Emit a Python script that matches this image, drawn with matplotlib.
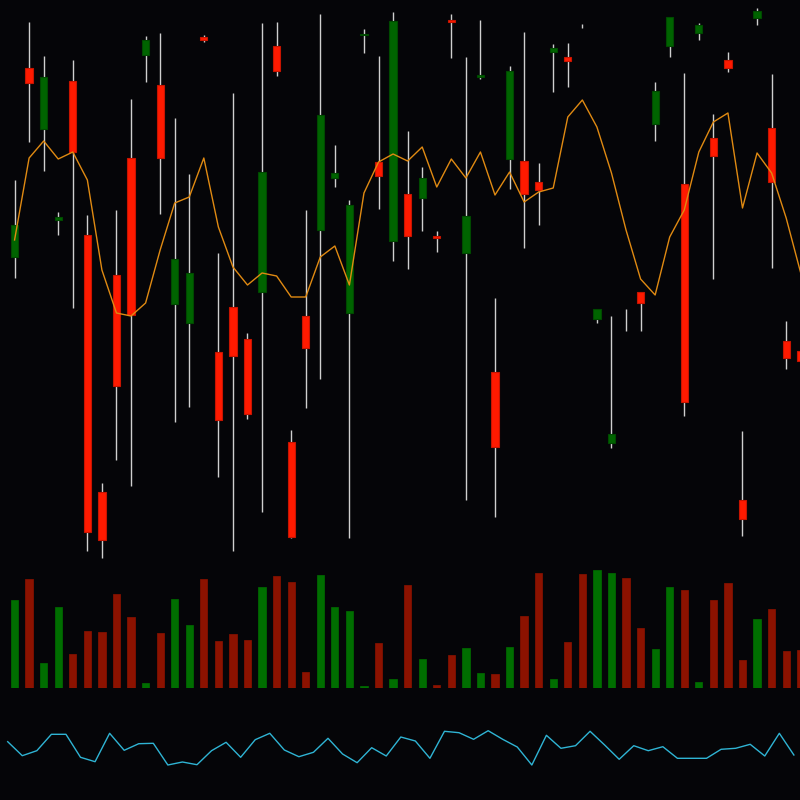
import matplotlib
matplotlib.use('Agg')
import matplotlib.pyplot as plt
import numpy as np

# candle data (open, high, low, close)
opens = np.array([34.3, 53.2, 47.1, 38.0, 51.9, 36.5, 10.8, 32.5, 44.2, 54.5,
                  51.5, 29.6, 27.7, 56.3, 24.8, 29.3, 26.1, 30.8, 55.4, 15.8,
                  28.4, 37.0, 42.2, 28.7, 56.5, 43.8, 35.9, 40.6, 40.2, 36.4,
                  58.0, 34.7, 52.3, 22.8, 44.1, 43.9, 41.8, 54.8, 54.3, 57.4,
                  28.1, 15.7, 28.0, 30.8, 47.6, 55.4, 41.6, 56.7, 46.2, 54.0,
                  10.0, 58.2, 47.2, 25.9, 24.9])
highs = np.array([42.0, 57.8, 54.4, 38.8, 54.0, 38.5, 11.7, 39.0, 50.1, 56.4,
                  56.7, 48.2, 42.6, 56.5, 34.7, 50.7, 26.7, 57.7, 57.8, 17.0,
                  39.0, 58.6, 45.5, 40.0, 57.1, 54.4, 58.8, 46.9, 43.3, 36.9,
                  58.6, 54.3, 58.0, 30.2, 53.4, 56.8, 43.7, 55.6, 55.7, 57.6,
                  29.1, 28.4, 29.1, 30.8, 51.8, 58.3, 52.7, 57.7, 48.6, 54.8,
                  16.9, 59.2, 52.6, 27.9, 25.2])
lows = np.array([32.2, 45.8, 42.9, 36.5, 29.2, 4.9, 4.2, 14.0, 11.4, 51.8,
                 38.6, 17.8, 19.3, 55.8, 12.3, 4.9, 18.1, 8.8, 52.4, 6.2,
                 19.2, 22.1, 41.3, 6.2, 54.7, 39.1, 33.9, 33.1, 36.9, 34.8,
                 54.2, 10.0, 52.1, 8.3, 41.1, 35.2, 37.5, 50.8, 51.3, 57.2,
                 27.7, 15.2, 26.9, 26.9, 45.9, 54.3, 18.4, 56.0, 32.1, 52.8,
                 6.4, 57.5, 33.2, 23.1, 23.6])
closes = np.array([37.5, 51.7, 52.3, 38.3, 44.8, 6.8, 6.0, 21.4, 28.5, 56.0,
                   44.2, 34.1, 32.7, 56.0, 18.0, 24.4, 18.6, 42.8, 52.9, 6.3,
                   25.2, 48.5, 42.7, 39.5, 56.6, 42.4, 57.9, 36.4, 42.2, 36.2,
                   57.8, 38.4, 52.5, 15.3, 52.9, 40.6, 41.0, 55.2, 53.9, 57.4,
                   29.1, 16.6, 28.0, 29.7, 50.9, 58.3, 19.8, 57.5, 44.4, 53.2,
                   8.1, 58.9, 41.8, 24.2, 23.9])
ma = np.array([36.0, 44.2, 45.9, 44.1, 44.8, 42.0, 33.0, 28.7, 28.4, 29.7,
               35.0, 39.7, 40.3, 44.2, 37.3, 33.3, 31.5, 32.7, 32.4, 30.3,
               30.3, 34.3, 35.4, 31.5, 40.7, 43.8, 44.6, 43.9, 45.3, 41.3,
               44.1, 42.2, 44.8, 40.5, 42.8, 39.8, 40.8, 41.2, 48.3, 50.0,
               47.3, 42.7, 37.0, 32.1, 30.5, 36.3, 39.0, 44.8, 47.8, 48.7,
               39.2, 44.7, 42.7, 38.2, 32.7])
volume = np.array([88, 109, 25, 81, 34, 57, 56, 94, 71, 5,
                   55, 89, 63, 109, 47, 54, 48, 101, 112, 106,
                   16, 113, 81, 77, 2, 45, 9, 103, 29, 3,
                   33, 40, 15, 14, 41, 72, 115, 9, 46, 114,
                   118, 115, 110, 60, 39, 101, 98, 6, 88, 105,
                   28, 69, 79, 37, 38])
osc = np.array([58.3, 44.3, 49.3, 65.7, 65.7, 42.7, 38.3, 66.7, 49.7, 56.3,
                56.7, 35.0, 38.0, 35.3, 49.3, 57.7, 42.7, 60.3, 66.7, 50.0,
                43.3, 47.7, 61.7, 46.0, 37.3, 52.3, 44.0, 63.0, 59.0, 41.7,
                68.7, 67.3, 60.7, 69.3, 60.7, 53.0, 35.0, 64.7, 51.7, 54.3,
                68.7, 55.0, 40.7, 54.3, 49.3, 53.3, 41.7, 41.7, 41.7, 50.7,
                51.7, 55.7, 44.0, 66.7, 45.0])

bg = '#050508'
up = closes > opens
x = np.arange(len(opens))
xlim = (-1.0, 53.95)

fig = plt.figure(figsize=(8, 8), dpi=100, facecolor=bg)

# price panel
ax = fig.add_axes([0, 0.3, 1, 0.7], facecolor=bg)
ax.vlines(x, lows, highs, color='#cfcfcf', lw=1, zorder=1)
body_col = np.where(up, '#006400', '#ff1a00')
edge_col = np.where(up, '#004a00', '#c81400')
bottoms = np.minimum(opens, closes)
heights = np.abs(closes - opens)
heights = np.where((heights > 0) & (heights < 0.15), 0.15, heights)
has_body = heights > 0
ax.bar(x[has_body], heights[has_body], bottom=bottoms[has_body], width=0.5,
       color=body_col[has_body], edgecolor=edge_col[has_body],
       linewidth=0.8, zorder=2)
ax.plot(x, ma, color='#e08a12', lw=1, zorder=3)
ax.set_xlim(*xlim)
ax.set_ylim(4, 60)
ax.axis('off')

# volume panel
axv = fig.add_axes([0, 0.14, 1, 0.15375], facecolor=bg)
vol_col = np.where(up, '#006e00', '#8c1200')
axv.bar(x, volume, width=0.5, color=vol_col, edgecolor=vol_col, linewidth=0.5)
axv.set_xlim(*xlim)
axv.set_ylim(0, 123)
axv.axis('off')

# oscillator panel
axo = fig.add_axes([0, 0, 1, 0.125], facecolor=bg)
axo.plot(x - 0.47, osc, color='#2fb4d4', lw=1)
axo.set_xlim(*xlim)
axo.set_ylim(0, 100)
axo.axis('off')

plt.savefig('out.png', dpi=100, facecolor=bg)
